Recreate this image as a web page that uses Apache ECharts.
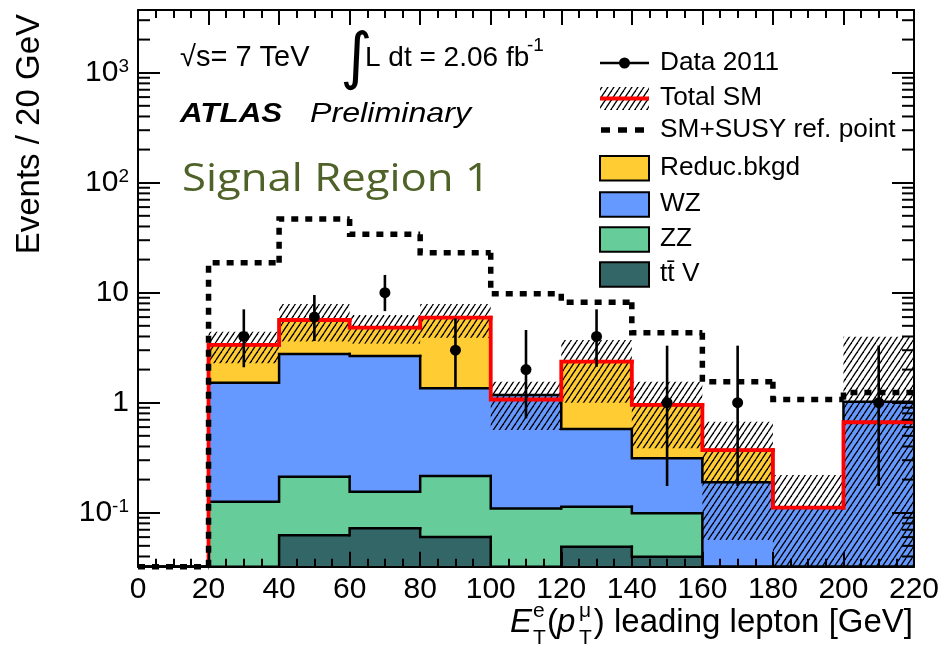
<!DOCTYPE html>
<html><head><meta charset="utf-8">
<script src="https://cdn.jsdelivr.net/npm/echarts@6/dist/echarts.min.js"></script>
<style>html,body{margin:0;padding:0;background:#fff;}#c{width:946px;height:667px;}</style>
</head><body><div id="c"></div>
<script>
// ---- data ----
const binEdges = [0, 20, 40, 60, 80, 100, 120, 140, 160, 180, 200, 220];
const xTickLabels = ['0','20','40','60','80','100','120','140','160','180','200','220'];
// cumulative stack levels per bin (what each filled layer reaches)
const levelTotal = [0, 3.35, 5.65, 4.81, 5.93, 1.07, 2.36, 0.954, 0.371, 0.111, 0.664];
const levelWZ    = [0, 1.52, 2.77, 2.66, 1.35, 1.175, 0.577, 0.312, 0.189, 0.111, 1.02];
const levelZZ    = [0, 0.126, 0.212, 0.155, 0.216, 0.109, 0.1135, 0.0988, 0, 0, 0];
const levelTTV   = [0, 0, 0.0623, 0.0722, 0.0601, 0, 0.0491, 0.0398, 0, 0, 0];
// uncertainty band on total SM
const bandHigh = [0, 4.42, 7.89, 6.27, 7.89, 1.55, 3.71, 1.55, 0.672, 0.22, 3.98];
const bandLow  = [0, 2.28, 3.6, 3.45, 3.9, 0.565, 1.0, 0.385, 0.0565, 0, 0];
// SM + SUSY reference point
const susyLevel = [0, 18.7, 46.8, 34.0, 23.1, 9.8, 8.18, 4.33, 1.55, 1.07, 1.24];
// data 2011
const dataCounts  = [0, 4, 6, 10, 3, 2, 4, 1, 1, 0, 1];
const dataErrHigh = [0, 7.06, 9.53, 14.5, 5.85, 4.58, 7.06, 3.3, 3.3, 0, 3.3];
const dataErrLow  = [0, 2.1, 3.64, 6.8, 1.37, 0.72, 2.12, 0.175, 0.175, 0, 0.175];
// y tick labels
const yTickExp = [-1, 0, 1, 2, 3];
const yTickLabels = ['10{s|-1}', '1', '10', '10{s|2}', '10{s|3}'];

const Y_MIN = 0.0323, Y_MAX = 3715;
const FONT = 'Liberation Sans';
const C_RED = '#ff0000', C_YEL = '#ffcc33', C_BLUE = '#6699ff', C_GREEN = '#66cc99', C_TEAL = '#336666';

// minor tick values (2..9 x 10^k) inside the axis range
const yMinor = [];
for (let k = -2; k <= 3; k++) for (let d = 2; d <= 9; d++) { const v = d * Math.pow(10, k); if (v > Y_MIN && v < Y_MAX) yMinor.push(v); }

function hatchCanvas() {
  const c = document.createElement('canvas');
  c.width = 6; c.height = 9;
  const g = c.getContext('2d');
  g.strokeStyle = '#000'; g.lineWidth = 1.3;
  for (let k = -1; k <= 1; k++) { g.beginPath(); g.moveTo(k * 6, 9); g.lineTo(k * 6 + 6, 0); g.stroke(); }
  return c;
}
const HATCH = { image: hatchCanvas(), repeat: 'repeat' };
const cl = v => (v > Y_MIN ? v : Y_MIN);

function stepSeries(levels, opt) {
  return {
    type: 'custom', z: opt.z, clip: opt.clip !== false, silent: true,
    data: levels.map((v, i) => [binEdges[i], binEdges[i + 1], v, i > 0 ? levels[i - 1] : 0]),
    renderItem: (params, api) => {
      const x0 = api.value(0), x1 = api.value(1), v = api.value(2), vp = api.value(3);
      if (opt.skipZero && v <= 0 && vp <= 0) return null;
      const tl = api.coord([x0, cl(v)]), br = api.coord([x1, Y_MIN]);
      const pp = api.coord([x0, cl(vp)]), tr = api.coord([x1, cl(v)]);
      const ch = [];
      if (opt.fill && v > 0) ch.push({ type: 'rect', shape: { x: tl[0], y: tl[1], width: br[0] - tl[0] + 0.7, height: br[1] - tl[1] }, style: { fill: opt.fill } });
      ch.push({ type: 'polyline', shape: { points: [pp, tl, tr] }, style: { stroke: opt.stroke, lineWidth: opt.width, fill: null, lineDash: opt.dash || null, lineCap: opt.dash ? 'butt' : 'square', lineJoin: 'miter' } });
      return { type: 'group', children: ch };
    }
  };
}

const dataPts = [];
dataCounts.forEach((n, i) => { if (n > 0) dataPts.push({ x: (binEdges[i] + binEdges[i + 1]) / 2, y: n, lo: dataErrLow[i], hi: dataErrHigh[i] }); });

const chart = echarts.init(document.getElementById('c'), null, { renderer: 'canvas' });

const xAxisBase = {
  type: 'value', min: 0, max: 220, interval: 20, z: 20,
  axisLine: { show: true, onZero: false, lineStyle: { color: '#000', width: 2 } },
  axisTick: { show: true, inside: true, length: 15, lineStyle: { color: '#000', width: 2 } },
  minorTick: { show: true, splitNumber: 4, length: 8, lineStyle: { color: '#000', width: 2 } },
  splitLine: { show: false }, minorSplitLine: { show: false }
};
const yAxisBase = {
  type: 'log', logBase: 10, min: Y_MIN, max: Y_MAX, z: 20,
  axisLine: { show: true, onZero: false, lineStyle: { color: '#000', width: 2 } },
  axisTick: { show: true, inside: true, length: 22, lineStyle: { color: '#000', width: 2 } },
  splitLine: { show: false }
};

const option = {
  animation: false,
  backgroundColor: '#fff',
  grid: { left: 138, right: 32, top: 10, bottom: 100.3, containLabel: false },
  xAxis: [
    Object.assign({}, xAxisBase, {
      position: 'bottom',
      axisLabel: { show: true, fontSize: 30, fontFamily: FONT, color: '#000', margin: 8,
        formatter: v => xTickLabels[binEdges.indexOf(v)] || '' }
    }),
    Object.assign({}, xAxisBase, { position: 'top', axisLabel: { show: false } })
  ],
  yAxis: [
    Object.assign({}, yAxisBase, {
      position: 'left',
      axisLabel: {
        show: true, fontSize: 30, fontFamily: FONT, color: '#000', margin: 9,
        showMinLabel: false, showMaxLabel: false,
        formatter: v => { const l = Math.log10(v), e = Math.round(l); if (Math.abs(l - e) > 1e-6) return ''; const i = yTickExp.indexOf(e); return i < 0 ? '' : yTickLabels[i]; },
        rich: { s: { fontSize: 19, fontFamily: FONT, color: '#000', verticalAlign: 'top', lineHeight: 19 } }
      }
    }),
    Object.assign({}, yAxisBase, { position: 'right', axisLabel: { show: false } })
  ],
  series: [
    stepSeries(levelTotal, { z: 2, fill: C_YEL, stroke: '#000', width: 2.5 }),
    stepSeries(levelWZ, { z: 3, fill: C_BLUE, stroke: '#000', width: 2.5 }),
    stepSeries(levelZZ, { z: 4, fill: C_GREEN, stroke: '#000', width: 2.5 }),
    stepSeries(levelTTV, { z: 5, fill: C_TEAL, stroke: '#000', width: 2.5 }),
    {
      type: 'custom', z: 6, clip: true, silent: true,
      data: bandHigh.map((h, i) => [binEdges[i], binEdges[i + 1], bandLow[i], h]),
      renderItem: (params, api) => {
        if (api.value(3) <= 0) return null;
        const a = api.coord([api.value(0), api.value(3)]), b = api.coord([api.value(1), cl(api.value(2))]);
        return { type: 'rect', shape: { x: a[0], y: a[1], width: b[0] - a[0], height: b[1] - a[1] }, style: { fill: HATCH } };
      }
    },
    stepSeries(levelTotal, { z: 7, stroke: C_RED, width: 3.8, skipZero: true }),
    stepSeries(susyLevel, { z: 8, stroke: '#000', width: 5.5, dash: [7, 7], clip: false }),
    {
      type: 'custom', z: 9, clip: false, silent: true,
      data: dataPts.map(d => [d.x, d.lo, d.hi]),
      renderItem: (params, api) => {
        const a = api.coord([api.value(0), api.value(2)]), b = api.coord([api.value(0), api.value(1)]);
        return { type: 'line', shape: { x1: a[0], y1: a[1], x2: b[0], y2: b[1] }, style: { stroke: '#000', lineWidth: 2.6 } };
      }
    },
    {
      type: 'scatter', z: 10, silent: true, symbol: 'circle', symbolSize: 11,
      itemStyle: { color: '#000', opacity: 1 },
      data: dataPts.map(d => [d.x, d.y])
    },
    {
      type: 'custom', z: 21, clip: false, silent: true,
      data: yMinor.map(v => [0, v]),
      renderItem: (params, api) => {
        const p = api.coord([0, api.value(1)]), q = api.coord([220, api.value(1)]);
        return { type: 'group', children: [
          { type: 'line', shape: { x1: p[0], y1: p[1], x2: p[0] + 12, y2: p[1] }, style: { stroke: '#000', lineWidth: 2 } },
          { type: 'line', shape: { x1: q[0] - 12, y1: q[1], x2: q[0], y2: q[1] }, style: { stroke: '#000', lineWidth: 2 } }
        ] };
      }
    }
  ],
  graphic: [
    // axis titles
    { type: 'text', x: 30, y: 14, rotation: Math.PI / 2, z: 30,
      style: { text: 'Events / 20 GeV', font: '33px "Liberation Sans"', fill: '#000', textAlign: 'right', textVerticalAlign: 'middle' } },
    { type: 'group', z: 30, children: [
      { type: 'text', x: 510, y: 639, style: { text: 'E', font: 'italic 33px "Liberation Sans"', fill: '#000', textAlign: 'left', textVerticalAlign: 'bottom' } },
      { type: 'text', x: 533, y: 622, style: { text: 'e', font: '21px "Liberation Sans"', fill: '#000', textAlign: 'left', textVerticalAlign: 'bottom' } },
      { type: 'text', x: 533, y: 649, style: { text: 'T', font: '21px "Liberation Sans"', fill: '#000', textAlign: 'left', textVerticalAlign: 'bottom' } },
      { type: 'text', x: 547, y: 639, style: { text: '(', font: '33px "Liberation Sans"', fill: '#000', textAlign: 'left', textVerticalAlign: 'bottom' } },
      { type: 'text', x: 557, y: 639, style: { text: 'p', font: 'italic 33px "Liberation Sans"', fill: '#000', textAlign: 'left', textVerticalAlign: 'bottom' } },
      { type: 'text', x: 579, y: 622, style: { text: 'μ', font: '21px "Liberation Sans"', fill: '#000', textAlign: 'left', textVerticalAlign: 'bottom' } },
      { type: 'text', x: 579, y: 649, style: { text: 'T', font: '21px "Liberation Sans"', fill: '#000', textAlign: 'left', textVerticalAlign: 'bottom' } },
      { type: 'text', x: 913, y: 639, style: { text: ') leading lepton [GeV]', font: '33px "Liberation Sans"', fill: '#000', textAlign: 'right', textVerticalAlign: 'bottom' } }
    ] },
    // header texts
    { type: 'text', x: 180, y: 72, z: 30, style: { text: '√s= 7 TeV', font: '29px "Liberation Sans"', fill: '#000', textAlign: 'left', textVerticalAlign: 'bottom' } },
    { type: 'text', x: 340, y: 92, z: 30, style: { text: '∫', font: '62px "DejaVu Sans"', fill: '#000', textAlign: 'left', textVerticalAlign: 'bottom' } },
    { type: 'text', x: 365, y: 72, z: 30, style: { text: 'L dt = 2.06 fb', font: '28px "Liberation Sans"', fill: '#000', textAlign: 'left', textVerticalAlign: 'bottom' } },
    { type: 'text', x: 527, y: 55, z: 30, style: { text: '-1', font: '19px "Liberation Sans"', fill: '#000', textAlign: 'left', textVerticalAlign: 'bottom' } },
    { type: 'text', x: 180, y: 128, scaleX: 1.12, z: 30, style: { text: 'ATLAS', font: 'italic bold 28px "Liberation Sans"', fill: '#000', textAlign: 'left', textVerticalAlign: 'bottom' } },
    { type: 'text', x: 310, y: 128, scaleX: 1.15, z: 30, style: { text: 'Preliminary', font: 'italic 28px "Liberation Sans"', fill: '#000', textAlign: 'left', textVerticalAlign: 'bottom' } },
    { type: 'text', x: 182, y: 180, scaleX: 1.15, z: 30, style: { text: 'Signal Region 1', font: '38px "Open Sans"', fill: '#4f6228', textAlign: 'left', textVerticalAlign: 'middle' } },
    // legend
    { type: 'group', z: 30, children: [
      { type: 'line', shape: { x1: 600, y1: 63, x2: 649, y2: 63 }, style: { stroke: '#000', lineWidth: 2.5 } },
      { type: 'circle', shape: { cx: 624.5, cy: 63, r: 5.5 }, style: { fill: '#000' } },
      { type: 'rect', shape: { x: 600, y: 87, width: 49, height: 23 }, style: { fill: HATCH } },
      { type: 'line', shape: { x1: 600, y1: 98.5, x2: 649, y2: 98.5 }, style: { stroke: C_RED, lineWidth: 3.8 } },
      { type: 'line', shape: { x1: 601, y1: 130, x2: 649, y2: 130 }, style: { stroke: '#000', lineWidth: 5.5, lineDash: [9, 8] } },
      { type: 'rect', shape: { x: 600, y: 156, width: 49, height: 24.5 }, style: { fill: C_YEL, stroke: '#000', lineWidth: 2 } },
      { type: 'rect', shape: { x: 600, y: 192.3, width: 49, height: 24.5 }, style: { fill: C_BLUE, stroke: '#000', lineWidth: 2 } },
      { type: 'rect', shape: { x: 600, y: 227.3, width: 49, height: 24.5 }, style: { fill: C_GREEN, stroke: '#000', lineWidth: 2 } },
      { type: 'rect', shape: { x: 600, y: 262.3, width: 49, height: 24.5 }, style: { fill: C_TEAL, stroke: '#000', lineWidth: 2 } },
      { type: 'text', x: 660, y: 63, scaleX: 1.05, style: { text: 'Data 2011', font: '25px "Liberation Sans"', fill: '#000', textAlign: 'left', textVerticalAlign: 'middle' } },
      { type: 'text', x: 660, y: 98.5, scaleX: 1.05, style: { text: 'Total SM', font: '25px "Liberation Sans"', fill: '#000', textAlign: 'left', textVerticalAlign: 'middle' } },
      { type: 'text', x: 660, y: 130, scaleX: 1.05, style: { text: 'SM+SUSY ref. point', font: '25px "Liberation Sans"', fill: '#000', textAlign: 'left', textVerticalAlign: 'middle' } },
      { type: 'text', x: 660, y: 168, scaleX: 1.05, style: { text: 'Reduc.bkgd', font: '25px "Liberation Sans"', fill: '#000', textAlign: 'left', textVerticalAlign: 'middle' } },
      { type: 'text', x: 660, y: 204.5, scaleX: 1.05, style: { text: 'WZ', font: '25px "Liberation Sans"', fill: '#000', textAlign: 'left', textVerticalAlign: 'middle' } },
      { type: 'text', x: 660, y: 239.5, scaleX: 1.05, style: { text: 'ZZ', font: '25px "Liberation Sans"', fill: '#000', textAlign: 'left', textVerticalAlign: 'middle' } },
      { type: 'text', x: 660, y: 274.5, scaleX: 1.05, style: { text: 'tt\u0304 V', font: '25px "Liberation Sans"', fill: '#000', textAlign: 'left', textVerticalAlign: 'middle' } }
    ] }
  ]
};
chart.setOption(option);
</script>
</body></html>
